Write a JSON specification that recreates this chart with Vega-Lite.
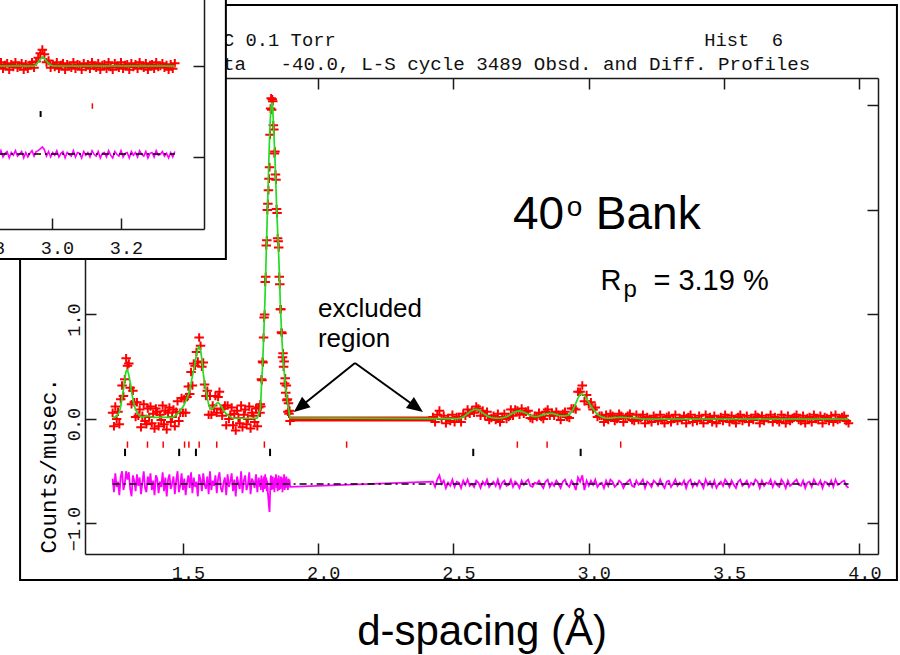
{
"$schema":"https://vega.github.io/schema/vega-lite/v6.json",
"width":793,"height":476,
"padding":{"left":85,"top":78,"right":22,"bottom":101},
"autosize":{"type":"none"},
"background":"white",
"config":{"view":{"stroke":null},
"axis":{"domainColor":"#1a1a1a","domainWidth":1.5,"tickColor":"#1a1a1a","tickWidth":1.5,"tickSize":-11,"grid":false,"labelFont":"Liberation Mono","labelFontSize":18.5,"labelColor":"#111111","labelFlush":false,"labelOverlap":false,"titleColor":"black","titleFontWeight":"normal"}},
"datasets":{
"one":[{"k":1}],
"refR":[{"d":1.295},{"d":1.369},{"d":1.427},{"d":1.506},{"d":1.522},{"d":1.56},{"d":1.625},{"d":1.801},{"d":2.105},{"d":2.736},{"d":2.846},{"d":3.118}],
"refB":[{"d":1.286},{"d":1.486},{"d":1.548},{"d":1.822},{"d":2.573},{"d":2.97}],
"main":[
{"d":1.24,"o":0.06,"c":0.01,"f":-0.57},{"d":1.245,"o":-0.07,"c":0.015,"f":-0.7},{"d":1.25,"o":0.12,"c":0.02,"f":-0.52},{"d":1.255,"o":0.0,"c":0.03,"f":-0.65},{"d":1.26,"o":0.07,"c":0.045,"f":-0.6},{"d":1.265,"o":-0.05,"c":0.065,"f":-0.73},{"d":1.27,"o":0.19,"c":0.12,"f":-0.55},{"d":1.275,"o":0.32,"c":0.2,"f":-0.5},{"d":1.28,"o":0.22,"c":0.28,"f":-0.68},{"d":1.285,"o":0.38,"c":0.38,"f":-0.62},
{"d":1.29,"o":0.58,"c":0.46,"f":-0.5},{"d":1.295,"o":0.51,"c":0.47,"f":-0.58},{"d":1.3,"o":0.53,"c":0.42,"f":-0.51},{"d":1.305,"o":0.3,"c":0.35,"f":-0.67},{"d":1.31,"o":0.14,"c":0.26,"f":-0.74},{"d":1.315,"o":0.27,"c":0.19,"f":-0.54},{"d":1.32,"o":0.16,"c":0.13,"f":-0.59},{"d":1.325,"o":0.02,"c":0.09,"f":-0.69},{"d":1.33,"o":0.16,"c":0.065,"f":-0.53},{"d":1.335,"o":0.03,"c":0.045,"f":-0.64},
{"d":1.34,"o":0.09,"c":0.03,"f":-0.56},{"d":1.345,"o":-0.08,"c":0.022,"f":-0.72},{"d":1.35,"o":0.03,"c":0.02,"f":-0.61},{"d":1.355,"o":0.14,"c":0.02,"f":-0.5},{"d":1.36,"o":-0.02,"c":0.025,"f":-0.66},{"d":1.365,"o":-0.05,"c":0.03,"f":-0.7},{"d":1.37,"o":0.1,"c":0.032,"f":-0.55},{"d":1.375,"o":0.02,"c":0.028,"f":-0.63},{"d":1.38,"o":0.12,"c":0.022,"f":-0.52},{"d":1.385,"o":-0.04,"c":0.018,"f":-0.68},
{"d":1.39,"o":0.05,"c":0.016,"f":-0.59},{"d":1.395,"o":-0.09,"c":0.016,"f":-0.73},{"d":1.4,"o":0.1,"c":0.016,"f":-0.54},{"d":1.405,"o":0.07,"c":0.016,"f":-0.57},{"d":1.41,"o":-0.07,"c":0.016,"f":-0.71},{"d":1.415,"o":0.04,"c":0.016,"f":-0.6},{"d":1.42,"o":-0.01,"c":0.016,"f":-0.65},{"d":1.425,"o":0.13,"c":0.016,"f":-0.51},{"d":1.43,"o":-0.05,"c":0.016,"f":-0.69},{"d":1.435,"o":0.08,"c":0.016,"f":-0.56},
{"d":1.44,"o":-0.1,"c":0.016,"f":-0.74},{"d":1.445,"o":0.06,"c":0.016,"f":-0.58},{"d":1.45,"o":0.11,"c":0.016,"f":-0.53},{"d":1.455,"o":-0.03,"c":0.016,"f":-0.67},{"d":1.46,"o":0.02,"c":0.016,"f":-0.62},{"d":1.465,"o":0.09,"c":0.02,"f":-0.55},{"d":1.47,"o":-0.07,"c":0.03,"f":-0.72},{"d":1.475,"o":0.07,"c":0.04,"f":-0.59},{"d":1.48,"o":0.17,"c":0.05,"f":-0.5},{"d":1.485,"o":-0.02,"c":0.065,"f":-0.7},
{"d":1.49,"o":0.06,"c":0.08,"f":-0.64},{"d":1.495,"o":0.2,"c":0.1,"f":-0.52},{"d":1.5,"o":0.06,"c":0.115,"f":-0.68},{"d":1.505,"o":0.19,"c":0.14,"f":-0.57},{"d":1.51,"o":0.06,"c":0.17,"f":-0.73},{"d":1.515,"o":0.21,"c":0.2,"f":-0.61},{"d":1.52,"o":0.31,"c":0.23,"f":-0.54},{"d":1.525,"o":0.24,"c":0.28,"f":-0.66},{"d":1.53,"o":0.45,"c":0.34,"f":-0.51},{"d":1.535,"o":0.32,"c":0.41,"f":-0.71},
{"d":1.54,"o":0.53,"c":0.47,"f":-0.56},{"d":1.545,"o":0.51,"c":0.54,"f":-0.65},{"d":1.55,"o":0.64,"c":0.62,"f":-0.6},{"d":1.555,"o":0.55,"c":0.67,"f":-0.74},{"d":1.56,"o":0.78,"c":0.69,"f":-0.53},{"d":1.565,"o":0.7,"c":0.66,"f":-0.58},{"d":1.57,"o":0.5,"c":0.57,"f":-0.69},{"d":1.575,"o":0.54,"c":0.44,"f":-0.52},{"d":1.58,"o":0.33,"c":0.34,"f":-0.63},{"d":1.585,"o":0.22,"c":0.27,"f":-0.67},
{"d":1.59,"o":0.27,"c":0.2,"f":-0.55},{"d":1.595,"o":0.04,"c":0.14,"f":-0.72},{"d":1.6,"o":0.22,"c":0.1,"f":-0.5},{"d":1.605,"o":0.04,"c":0.095,"f":-0.68},{"d":1.61,"o":0.13,"c":0.1,"f":-0.59},{"d":1.615,"o":0.1,"c":0.115,"f":-0.64},{"d":1.62,"o":0.22,"c":0.135,"f":-0.54},{"d":1.625,"o":0.06,"c":0.15,"f":-0.71},{"d":1.63,"o":0.21,"c":0.155,"f":-0.57},{"d":1.635,"o":0.26,"c":0.145,"f":-0.51},
{"d":1.64,"o":0.09,"c":0.125,"f":-0.66},{"d":1.645,"o":0.03,"c":0.105,"f":-0.7},{"d":1.65,"o":0.1,"c":0.085,"f":-0.61},{"d":1.655,"o":0.13,"c":0.065,"f":-0.56},{"d":1.66,"o":-0.06,"c":0.05,"f":-0.73},{"d":1.665,"o":0.13,"c":0.04,"f":-0.53},{"d":1.67,"o":0.0,"c":0.03,"f":-0.65},{"d":1.675,"o":0.04,"c":0.02,"f":-0.6},{"d":1.68,"o":0.11,"c":0.012,"f":-0.52},{"d":1.685,"o":-0.06,"c":0.007,"f":-0.69},
{"d":1.69,"o":0.05,"c":0.007,"f":-0.58},{"d":1.695,"o":-0.11,"c":0.007,"f":-0.74},{"d":1.7,"o":0.08,"c":0.007,"f":-0.55},{"d":1.705,"o":0.01,"c":0.007,"f":-0.62},{"d":1.71,"o":-0.04,"c":0.007,"f":-0.67},{"d":1.715,"o":0.13,"c":0.007,"f":-0.5},{"d":1.72,"o":-0.08,"c":0.007,"f":-0.71},{"d":1.725,"o":0.04,"c":0.007,"f":-0.59},{"d":1.73,"o":0.09,"c":0.007,"f":-0.54},{"d":1.735,"o":-0.05,"c":0.007,"f":-0.68},
{"d":1.74,"o":0.0,"c":0.007,"f":-0.63},{"d":1.745,"o":0.12,"c":0.007,"f":-0.51},{"d":1.75,"o":-0.09,"c":0.007,"f":-0.72},{"d":1.755,"o":0.06,"c":0.007,"f":-0.57},{"d":1.76,"o":0.03,"c":0.007,"f":-0.6},{"d":1.765,"o":-0.03,"c":0.007,"f":-0.66},{"d":1.77,"o":0.1,"c":0.007,"f":-0.53},{"d":1.775,"o":-0.07,"c":0.01,"f":-0.7},{"d":1.78,"o":0.11,"c":0.05,"f":-0.56},{"d":1.785,"o":0.06,"c":0.09,"f":-0.65},
{"d":1.786,"o":0.14,"c":0.1,"f":-0.58},{"d":1.788,"o":0.12,"c":0.18,"f":-0.68},{"d":1.79,"o":0.38,"c":0.3,"f":-0.54},{"d":1.792,"o":0.37,"c":0.4,"f":-0.65},{"d":1.794,"o":0.55,"c":0.5,"f":-0.57},{"d":1.796,"o":0.54,"c":0.62,"f":-0.7},{"d":1.798,"o":0.78,"c":0.76,"f":-0.6},{"d":1.8,"o":0.97,"c":0.9,"f":-0.55},{"d":1.802,"o":1.0,"c":1.05,"f":-0.67},{"d":1.804,"o":1.31,"c":1.22,"f":-0.53},
{"d":1.806,"o":1.36,"c":1.4,"f":-0.66},{"d":1.808,"o":1.66,"c":1.6,"f":-0.56},{"d":1.81,"o":1.71,"c":1.78,"f":-0.69},{"d":1.812,"o":2.0,"c":1.97,"f":-0.59},{"d":1.814,"o":2.06,"c":2.15,"f":-0.71},{"d":1.816,"o":2.19,"c":2.34,"f":-0.77},{"d":1.818,"o":2.3,"c":2.52,"f":-0.84},{"d":1.82,"o":2.41,"c":2.68,"f":-0.89},{"d":1.822,"o":2.72,"c":2.82,"f":-0.72},{"d":1.824,"o":2.97,"c":2.92,"f":-0.57},
{"d":1.826,"o":3.07,"c":2.99,"f":-0.54},{"d":1.828,"o":2.96,"c":3.02,"f":-0.68},{"d":1.83,"o":3.06,"c":3.02,"f":-0.58},{"d":1.832,"o":3.04,"c":2.97,"f":-0.55},{"d":1.834,"o":2.81,"c":2.86,"f":-0.67},{"d":1.836,"o":2.77,"c":2.74,"f":-0.59},{"d":1.838,"o":2.54,"c":2.62,"f":-0.7},{"d":1.84,"o":2.56,"c":2.5,"f":-0.56},{"d":1.842,"o":2.34,"c":2.36,"f":-0.64},{"d":1.844,"o":2.29,"c":2.2,"f":-0.53},
{"d":1.846,"o":2.01,"c":2.05,"f":-0.66},{"d":1.848,"o":1.97,"c":1.92,"f":-0.57},{"d":1.85,"o":1.73,"c":1.8,"f":-0.69},{"d":1.852,"o":1.7,"c":1.68,"f":-0.6},{"d":1.854,"o":1.64,"c":1.56,"f":-0.54},{"d":1.856,"o":1.36,"c":1.42,"f":-0.68},{"d":1.858,"o":1.29,"c":1.26,"f":-0.59},{"d":1.86,"o":1.05,"c":1.1,"f":-0.67},{"d":1.862,"o":1.05,"c":0.98,"f":-0.55},{"d":1.864,"o":0.83,"c":0.86,"f":-0.65},
{"d":1.866,"o":0.82,"c":0.76,"f":-0.56},{"d":1.868,"o":0.59,"c":0.67,"f":-0.7},{"d":1.87,"o":0.63,"c":0.59,"f":-0.58},{"d":1.872,"o":0.5,"c":0.52,"f":-0.64},{"d":1.874,"o":0.55,"c":0.46,"f":-0.53},{"d":1.876,"o":0.34,"c":0.4,"f":-0.68},{"d":1.878,"o":0.39,"c":0.34,"f":-0.57},{"d":1.88,"o":0.25,"c":0.29,"f":-0.66},{"d":1.882,"o":0.32,"c":0.25,"f":-0.55},{"d":1.884,"o":0.18,"c":0.21,"f":-0.65},
{"d":1.886,"o":0.19,"c":0.17,"f":-0.6},{"d":1.888,"o":0.07,"c":0.13,"f":-0.68},{"d":1.89,"o":0.15,"c":0.1,"f":-0.57},{"d":1.892,"o":0.05,"c":0.07,"f":-0.64},{"d":1.894,"o":0.08,"c":0.04,"f":-0.58},{"d":1.896,"o":-0.02,"c":0.01,"f":-0.65},
{"d":2.424,"o":0.02,"c":0.003,"f":-0.6},{"d":2.432,"o":-0.03,"c":0.003,"f":-0.65},{"d":2.44,"o":0.04,"c":0.003,"f":-0.58},{"d":2.448,"o":0.08,"c":0.003,"f":-0.54},{"d":2.456,"o":0.0,"c":0.003,"f":-0.62},{"d":2.464,"o":0.03,"c":0.003,"f":-0.59},{"d":2.472,"o":-0.04,"c":0.003,"f":-0.66},{"d":2.48,"o":0.01,"c":0.003,"f":-0.61},{"d":2.488,"o":-0.02,"c":0.003,"f":-0.64},{"d":2.496,"o":0.04,"c":0.003,"f":-0.58},
{"d":2.504,"o":-0.03,"c":0.003,"f":-0.65},{"d":2.512,"o":0.02,"c":0.004,"f":-0.6},{"d":2.52,"o":0.02,"c":0.005,"f":-0.61},{"d":2.528,"o":-0.03,"c":0.01,"f":-0.66},{"d":2.536,"o":0.05,"c":0.02,"f":-0.59},{"d":2.544,"o":0.03,"c":0.035,"f":-0.63},{"d":2.552,"o":0.09,"c":0.052,"f":-0.58},{"d":2.56,"o":0.05,"c":0.068,"f":-0.64},{"d":2.568,"o":0.08,"c":0.08,"f":-0.62},{"d":2.576,"o":0.06,"c":0.09,"f":-0.65},
{"d":2.584,"o":0.12,"c":0.093,"f":-0.59},{"d":2.592,"o":0.1,"c":0.088,"f":-0.61},{"d":2.6,"o":0.03,"c":0.074,"f":-0.66},{"d":2.608,"o":0.08,"c":0.058,"f":-0.6},{"d":2.616,"o":0.03,"c":0.042,"f":-0.63},{"d":2.624,"o":0.07,"c":0.03,"f":-0.58},{"d":2.632,"o":-0.01,"c":0.02,"f":-0.65},{"d":2.64,"o":0.01,"c":0.014,"f":-0.62},{"d":2.648,"o":0.03,"c":0.01,"f":-0.6},{"d":2.656,"o":-0.01,"c":0.008,"f":-0.64},
{"d":2.664,"o":0.05,"c":0.007,"f":-0.58},{"d":2.672,"o":-0.03,"c":0.008,"f":-0.66},{"d":2.68,"o":0.02,"c":0.01,"f":-0.61},{"d":2.688,"o":0.05,"c":0.015,"f":-0.59},{"d":2.696,"o":0.0,"c":0.022,"f":-0.64},{"d":2.704,"o":0.02,"c":0.032,"f":-0.63},{"d":2.712,"o":0.09,"c":0.045,"f":-0.58},{"d":2.72,"o":0.03,"c":0.058,"f":-0.65},{"d":2.728,"o":0.09,"c":0.068,"f":-0.6},{"d":2.736,"o":0.08,"c":0.075,"f":-0.62},
{"d":2.744,"o":0.04,"c":0.077,"f":-0.66},{"d":2.752,"o":0.1,"c":0.073,"f":-0.59},{"d":2.76,"o":0.05,"c":0.064,"f":-0.63},{"d":2.768,"o":0.07,"c":0.054,"f":-0.6},{"d":2.776,"o":0.08,"c":0.044,"f":-0.58},{"d":2.784,"o":0.01,"c":0.034,"f":-0.64},{"d":2.792,"o":0.0,"c":0.027,"f":-0.65},{"d":2.8,"o":0.03,"c":0.023,"f":-0.61},{"d":2.808,"o":0.02,"c":0.024,"f":-0.62},{"d":2.816,"o":0.06,"c":0.028,"f":-0.59},
{"d":2.824,"o":0.02,"c":0.034,"f":-0.63},{"d":2.832,"o":0.0,"c":0.04,"f":-0.66},{"d":2.84,"o":0.07,"c":0.047,"f":-0.6},{"d":2.848,"o":0.09,"c":0.052,"f":-0.58},{"d":2.856,"o":0.03,"c":0.055,"f":-0.65},{"d":2.864,"o":0.06,"c":0.054,"f":-0.61},{"d":2.872,"o":0.03,"c":0.049,"f":-0.64},{"d":2.88,"o":0.07,"c":0.042,"f":-0.59},{"d":2.888,"o":0.04,"c":0.036,"f":-0.62},{"d":2.896,"o":-0.01,"c":0.032,"f":-0.66},
{"d":2.904,"o":0.05,"c":0.03,"f":-0.6},{"d":2.912,"o":0.07,"c":0.03,"f":-0.58},{"d":2.92,"o":0.02,"c":0.033,"f":-0.63},{"d":2.928,"o":0.01,"c":0.042,"f":-0.65},{"d":2.936,"o":0.1,"c":0.065,"f":-0.59},{"d":2.944,"o":0.1,"c":0.1,"f":-0.62},{"d":2.952,"o":0.09,"c":0.15,"f":-0.68},{"d":2.96,"o":0.26,"c":0.2,"f":-0.56},{"d":2.968,"o":0.26,"c":0.235,"f":-0.6},{"d":2.976,"o":0.32,"c":0.24,"f":-0.54},
{"d":2.984,"o":0.17,"c":0.225,"f":-0.68},{"d":2.992,"o":0.23,"c":0.195,"f":-0.59},{"d":3.0,"o":0.14,"c":0.16,"f":-0.64},{"d":3.008,"o":0.16,"c":0.125,"f":-0.59},{"d":3.016,"o":0.09,"c":0.095,"f":-0.63},{"d":3.024,"o":0.11,"c":0.068,"f":-0.58},{"d":3.032,"o":0.02,"c":0.045,"f":-0.65},{"d":3.04,"o":0.03,"c":0.03,"f":-0.62},{"d":3.048,"o":0.03,"c":0.02,"f":-0.61},{"d":3.056,"o":-0.03,"c":0.012,"f":-0.66},
{"d":3.064,"o":0.04,"c":0.008,"f":-0.59},{"d":3.072,"o":-0.01,"c":0.007,"f":-0.64},{"d":3.08,"o":0.05,"c":0.008,"f":-0.58},{"d":3.088,"o":0.03,"c":0.01,"f":-0.6},{"d":3.096,"o":-0.02,"c":0.012,"f":-0.65},{"d":3.104,"o":0.0,"c":0.014,"f":-0.63},{"d":3.112,"o":0.05,"c":0.015,"f":-0.59},{"d":3.12,"o":0.03,"c":0.015,"f":-0.61},{"d":3.128,"o":-0.03,"c":0.014,"f":-0.66},{"d":3.136,"o":0.01,"c":0.013,"f":-0.62},
{"d":3.144,"o":0.03,"c":0.012,"f":-0.6},{"d":3.152,"o":0.05,"c":0.012,"f":-0.58},{"d":3.16,"o":-0.01,"c":0.012,"f":-0.64},{"d":3.168,"o":-0.02,"c":0.011,"f":-0.65},{"d":3.176,"o":0.04,"c":0.008,"f":-0.59},{"d":3.184,"o":-0.01,"c":0.005,"f":-0.63},{"d":3.192,"o":0.01,"c":0.002,"f":-0.61},{"d":3.2,"o":0.04,"c":0,"f":-0.58},{"d":3.208,"o":-0.04,"c":0,"f":-0.66},{"d":3.216,"o":0.02,"c":0,"f":-0.6},
{"d":3.224,"o":0.0,"c":0,"f":-0.62},{"d":3.232,"o":-0.03,"c":0,"f":-0.65},{"d":3.24,"o":0.03,"c":0,"f":-0.59},{"d":3.248,"o":0.01,"c":0,"f":-0.61},{"d":3.256,"o":-0.02,"c":0,"f":-0.64},{"d":3.264,"o":0.04,"c":0,"f":-0.58},{"d":3.272,"o":-0.01,"c":0,"f":-0.63},{"d":3.28,"o":-0.04,"c":0,"f":-0.66},{"d":3.288,"o":0.02,"c":0,"f":-0.6},{"d":3.296,"o":0.03,"c":0,"f":-0.59},
{"d":3.304,"o":-0.03,"c":0,"f":-0.65},{"d":3.312,"o":0.0,"c":0,"f":-0.62},{"d":3.32,"o":0.04,"c":0,"f":-0.58},{"d":3.328,"o":-0.02,"c":0,"f":-0.64},{"d":3.336,"o":0.01,"c":0,"f":-0.61},{"d":3.344,"o":-0.01,"c":0,"f":-0.63},{"d":3.352,"o":0.03,"c":0,"f":-0.59},{"d":3.36,"o":-0.04,"c":0,"f":-0.66},{"d":3.368,"o":0.02,"c":0,"f":-0.6},{"d":3.376,"o":0.04,"c":0,"f":-0.58},
{"d":3.384,"o":-0.03,"c":0,"f":-0.65},{"d":3.392,"o":0.01,"c":0,"f":-0.61},{"d":3.4,"o":-0.02,"c":0,"f":-0.64},{"d":3.408,"o":0.03,"c":0,"f":-0.59},{"d":3.416,"o":0.0,"c":0,"f":-0.62},{"d":3.424,"o":-0.04,"c":0,"f":-0.66},{"d":3.432,"o":0.04,"c":0,"f":-0.58},{"d":3.44,"o":-0.01,"c":0,"f":-0.63},{"d":3.448,"o":0.02,"c":0,"f":-0.6},{"d":3.456,"o":-0.03,"c":0,"f":-0.65},
{"d":3.464,"o":0.03,"c":0,"f":-0.59},{"d":3.472,"o":-0.04,"c":0,"f":-0.66},{"d":3.48,"o":0.0,"c":0,"f":-0.62},{"d":3.488,"o":0.02,"c":0,"f":-0.6},{"d":3.496,"o":-0.02,"c":0,"f":-0.64},{"d":3.504,"o":0.04,"c":0,"f":-0.58},{"d":3.512,"o":0.01,"c":0,"f":-0.61},{"d":3.52,"o":-0.03,"c":0,"f":-0.65},{"d":3.528,"o":0.03,"c":0,"f":-0.59},{"d":3.536,"o":-0.01,"c":0,"f":-0.63},
{"d":3.544,"o":-0.04,"c":0,"f":-0.66},{"d":3.552,"o":0.02,"c":0,"f":-0.6},{"d":3.56,"o":0.04,"c":0,"f":-0.58},{"d":3.568,"o":-0.02,"c":0,"f":-0.64},{"d":3.576,"o":0.0,"c":0,"f":-0.62},{"d":3.584,"o":0.03,"c":0,"f":-0.59},{"d":3.592,"o":-0.03,"c":0,"f":-0.65},{"d":3.6,"o":0.01,"c":0,"f":-0.61},{"d":3.608,"o":-0.01,"c":0,"f":-0.63},{"d":3.616,"o":0.04,"c":0,"f":-0.58},
{"d":3.624,"o":0.02,"c":0,"f":-0.6},{"d":3.632,"o":-0.04,"c":0,"f":-0.66},{"d":3.64,"o":0.03,"c":0,"f":-0.59},{"d":3.648,"o":-0.02,"c":0,"f":-0.64},{"d":3.656,"o":0.01,"c":0,"f":-0.61},{"d":3.664,"o":0.0,"c":0,"f":-0.62},{"d":3.672,"o":0.04,"c":0,"f":-0.58},{"d":3.68,"o":-0.03,"c":0,"f":-0.65},{"d":3.688,"o":0.02,"c":0,"f":-0.6},{"d":3.696,"o":-0.01,"c":0,"f":-0.63},
{"d":3.704,"o":-0.03,"c":0,"f":-0.65},{"d":3.712,"o":0.04,"c":0,"f":-0.58},{"d":3.72,"o":0.01,"c":0,"f":-0.61},{"d":3.728,"o":-0.04,"c":0,"f":-0.66},{"d":3.736,"o":0.03,"c":0,"f":-0.59},{"d":3.744,"o":-0.02,"c":0,"f":-0.64},{"d":3.752,"o":0.0,"c":0,"f":-0.62},{"d":3.76,"o":0.02,"c":0,"f":-0.6},{"d":3.768,"o":0.04,"c":0,"f":-0.58},{"d":3.776,"o":-0.01,"c":0,"f":-0.63},
{"d":3.784,"o":-0.02,"c":0,"f":-0.64},{"d":3.792,"o":0.03,"c":0,"f":-0.59},{"d":3.8,"o":-0.04,"c":0,"f":-0.66},{"d":3.808,"o":0.01,"c":0,"f":-0.61},{"d":3.816,"o":0.02,"c":0,"f":-0.6},{"d":3.824,"o":-0.03,"c":0,"f":-0.65},{"d":3.832,"o":0.04,"c":0,"f":-0.58},{"d":3.84,"o":0.0,"c":0,"f":-0.62},{"d":3.848,"o":-0.01,"c":0,"f":-0.63},{"d":3.856,"o":0.03,"c":0,"f":-0.59},
{"d":3.864,"o":-0.04,"c":0,"f":-0.66},{"d":3.872,"o":0.02,"c":0,"f":-0.6},{"d":3.88,"o":0.01,"c":0,"f":-0.61},{"d":3.888,"o":-0.02,"c":0,"f":-0.64},{"d":3.896,"o":0.03,"c":0,"f":-0.59},{"d":3.904,"o":-0.03,"c":0,"f":-0.65},{"d":3.912,"o":0.04,"c":0,"f":-0.58},{"d":3.92,"o":-0.01,"c":0,"f":-0.63},{"d":3.928,"o":0.0,"c":0,"f":-0.62},{"d":3.936,"o":0.02,"c":0,"f":-0.6},
{"d":3.944,"o":0.03,"c":0,"f":-0.59},{"d":3.952,"o":-0.02,"c":0,"f":-0.64},{"d":3.96,"o":-0.04,"c":0,"f":-0.66}
],
"inset":[
{"d":2.84,"o":0.03,"c":0,"f":-0.94},{"d":2.846,"o":-0.02,"c":0,"f":-0.99},{"d":2.852,"o":0.04,"c":0,"f":-0.93},{"d":2.858,"o":-0.03,"c":0,"f":-1.0},{"d":2.864,"o":0.01,"c":0,"f":-0.96},{"d":2.87,"o":0.03,"c":0,"f":-0.94},{"d":2.876,"o":-0.04,"c":0,"f":-1.01},{"d":2.882,"o":0.02,"c":0,"f":-0.95},{"d":2.888,"o":-0.01,"c":0,"f":-0.98},{"d":2.894,"o":0.04,"c":0,"f":-0.93},
{"d":2.9,"o":-0.02,"c":0,"f":-0.99},{"d":2.906,"o":0.0,"c":0,"f":-0.97},{"d":2.912,"o":0.03,"c":0,"f":-0.94},{"d":2.918,"o":-0.04,"c":0,"f":-1.01},{"d":2.924,"o":0.02,"c":0,"f":-0.95},{"d":2.93,"o":-0.03,"c":0,"f":-1.0},{"d":2.936,"o":0.01,"c":0,"f":-0.96},{"d":2.942,"o":0.04,"c":0,"f":-0.93},{"d":2.948,"o":-0.02,"c":0,"f":-0.99},{"d":2.954,"o":0.05,"c":0.015,"f":-0.94},
{"d":2.96,"o":0.09,"c":0.045,"f":-0.93},{"d":2.966,"o":0.14,"c":0.075,"f":-0.91},{"d":2.972,"o":0.18,"c":0.1,"f":-0.89},{"d":2.978,"o":0.13,"c":0.08,"f":-0.92},{"d":2.984,"o":0.04,"c":0.055,"f":-0.99},{"d":2.99,"o":0.06,"c":0.03,"f":-0.94},{"d":2.996,"o":-0.02,"c":0.01,"f":-1.0},{"d":3.002,"o":0.02,"c":0,"f":-0.95},{"d":3.008,"o":-0.01,"c":0,"f":-0.98},{"d":3.014,"o":0.04,"c":0,"f":-0.93},
{"d":3.02,"o":-0.03,"c":0,"f":-1.0},{"d":3.026,"o":0.01,"c":0,"f":-0.96},{"d":3.032,"o":0.03,"c":0,"f":-0.94},{"d":3.038,"o":-0.04,"c":0,"f":-1.01},{"d":3.044,"o":0.02,"c":0,"f":-0.95},{"d":3.05,"o":0.0,"c":0,"f":-0.97},{"d":3.056,"o":-0.02,"c":0,"f":-0.99},{"d":3.062,"o":0.04,"c":0,"f":-0.93},{"d":3.068,"o":-0.03,"c":0,"f":-1.0},{"d":3.074,"o":0.02,"c":0,"f":-0.95},
{"d":3.08,"o":0.01,"c":0,"f":-0.96},{"d":3.086,"o":-0.04,"c":0,"f":-1.01},{"d":3.092,"o":0.03,"c":0,"f":-0.94},{"d":3.098,"o":-0.01,"c":0,"f":-0.98},{"d":3.104,"o":0.02,"c":0,"f":-0.95},{"d":3.11,"o":-0.03,"c":0,"f":-1.0},{"d":3.116,"o":0.04,"c":0,"f":-0.93},{"d":3.122,"o":0.0,"c":0,"f":-0.97},{"d":3.128,"o":-0.02,"c":0,"f":-0.99},{"d":3.134,"o":0.03,"c":0,"f":-0.94},
{"d":3.14,"o":-0.04,"c":0,"f":-1.01},{"d":3.146,"o":0.01,"c":0,"f":-0.96},{"d":3.152,"o":0.02,"c":0,"f":-0.95},{"d":3.158,"o":-0.03,"c":0,"f":-1.0},{"d":3.164,"o":0.04,"c":0,"f":-0.93},{"d":3.17,"o":-0.01,"c":0,"f":-0.98},{"d":3.176,"o":-0.04,"c":0,"f":-1.01},{"d":3.182,"o":0.03,"c":0,"f":-0.94},{"d":3.188,"o":0.0,"c":0,"f":-0.97},{"d":3.194,"o":-0.02,"c":0,"f":-0.99},
{"d":3.2,"o":0.04,"c":0,"f":-0.93},{"d":3.206,"o":-0.03,"c":0,"f":-1.0},{"d":3.212,"o":0.01,"c":0,"f":-0.96},{"d":3.218,"o":0.02,"c":0,"f":-0.95},{"d":3.224,"o":-0.04,"c":0,"f":-1.01},{"d":3.23,"o":0.03,"c":0,"f":-0.94},{"d":3.236,"o":-0.01,"c":0,"f":-0.98},{"d":3.242,"o":0.02,"c":0,"f":-0.95},{"d":3.248,"o":-0.03,"c":0,"f":-1.0},{"d":3.254,"o":0.04,"c":0,"f":-0.93},
{"d":3.26,"o":0.0,"c":0,"f":-0.97},{"d":3.266,"o":-0.02,"c":0,"f":-0.99},{"d":3.272,"o":0.03,"c":0,"f":-0.94},{"d":3.278,"o":-0.04,"c":0,"f":-1.01},{"d":3.284,"o":0.01,"c":0,"f":-0.96},{"d":3.29,"o":0.02,"c":0,"f":-0.95},{"d":3.296,"o":-0.03,"c":0,"f":-1.0},{"d":3.302,"o":0.04,"c":0,"f":-0.93},{"d":3.308,"o":-0.01,"c":0,"f":-0.98},{"d":3.314,"o":0.0,"c":0,"f":-0.97},
{"d":3.32,"o":0.03,"c":0,"f":-0.94},{"d":3.326,"o":-0.02,"c":0,"f":-0.99},{"d":3.332,"o":0.01,"c":0,"f":-0.96},{"d":3.338,"o":-0.04,"c":0,"f":-1.01},{"d":3.344,"o":0.02,"c":0,"f":-0.95},{"d":3.35,"o":-0.03,"c":0,"f":-1.0},{"d":3.356,"o":0.03,"c":0,"f":-0.94}
]},
"resolve":{"scale":{"x":"independent","y":"independent"},"axis":{"x":"independent","y":"independent"}},
"layer":[
{"layer":[
{"data":{"name":"one"},"mark":{"type":"rect","filled":false,"stroke":"black","strokeWidth":2},
 "encoding":{"x":{"datum":0.898,"type":"quantitative"},"x2":{"datum":4.139},"y":{"datum":3.962,"type":"quantitative"},"y2":{"datum":-1.541}}},
{"data":{"name":"one"},"mark":{"type":"text","text":"C 0.1 Torr","align":"left","baseline":"alphabetic","font":"Liberation Mono","fontSize":18.8,"color":"#111111"},
 "encoding":{"x":{"datum":1.648,"type":"quantitative"},"y":{"datum":3.569,"type":"quantitative"}}},
{"data":{"name":"one"},"mark":{"type":"text","text":"ta\u00a0\u00a0\u00a0-40.0,\u00a0L-S\u00a0cycle\u00a03489\u00a0Obsd.\u00a0and\u00a0Diff.\u00a0Profiles","align":"left","baseline":"alphabetic","font":"Liberation Mono","fontSize":19.2,"color":"#111111"},
 "encoding":{"x":{"datum":1.648,"type":"quantitative"},"y":{"datum":3.34,"type":"quantitative"}}},
{"data":{"name":"one"},"mark":{"type":"text","text":"Hist\u00a0\u00a06","align":"right","baseline":"alphabetic","font":"Liberation Mono","fontSize":18.8,"color":"#111111"},
 "encoding":{"x":{"datum":3.718,"type":"quantitative"},"y":{"datum":3.569,"type":"quantitative"}}},
{"data":{"name":"one"},"mark":{"type":"rule","color":"#ff0000","strokeWidth":5},
 "encoding":{"x":{"datum":1.896,"type":"quantitative"},"x2":{"datum":2.424},"y":{"datum":0,"type":"quantitative"}}},
{"data":{"name":"main"},"mark":{"type":"point","shape":"M-1,0H1M0,-0.9V0.9","filled":false,"color":"#ff0000","strokeWidth":2,"size":90,"opacity":1},
 "encoding":{
  "x":{"field":"d","type":"quantitative","scale":{"domain":[1.138,4.069],"nice":false,"zero":false},
   "axis":{"orient":"bottom","values":[1.5,2,2.5,3,3.5,4],"format":".1f","labelPadding":20,"labelOffset":5,"title":"d-spacing (Å)","titleFont":"Liberation Sans","titleFontSize":42,"titleX":396.5,"titleY":90,"titleAlign":"center","titleBaseline":"alphabetic"}},
  "y":{"field":"o","type":"quantitative","scale":{"domain":[-1.292,3.263],"nice":false,"zero":false},
   "axis":{"orient":"left","values":[-1,0,1,2,3],"format":".1f","labelAngle":270,"labelAlign":"center","labelBaseline":"alphabetic","labelPadding":17,"labelOffset":5,"title":"Counts/musec.","titleFont":"Liberation Mono","titleFontSize":22.5,"titleAngle":270,"titleAlign":"left","titleBaseline":"alphabetic","titleX":-30,"titleY":475}}}},
{"data":{"name":"main"},"mark":{"type":"line","color":"#22dd22","strokeWidth":1.7},
 "encoding":{"x":{"field":"d","type":"quantitative"},"y":{"field":"c","type":"quantitative"}}},
{"data":{"name":"main"},"mark":{"type":"line","color":"#ff00ff","strokeWidth":1.8},
 "encoding":{"x":{"field":"d","type":"quantitative"},"y":{"field":"f","type":"quantitative"}}},
{"data":{"name":"one"},"mark":{"type":"rule","color":"black","strokeWidth":1.4,"strokeDash":[7,4,2,4]},
 "encoding":{"x":{"datum":1.24,"type":"quantitative"},"x2":{"datum":3.96},"y":{"datum":-0.622,"type":"quantitative"}}},
{"data":{"name":"refR"},"mark":{"type":"rule","color":"#ff0000","strokeWidth":1.5},
 "encoding":{"x":{"field":"d","type":"quantitative"},"y":{"datum":-0.215,"type":"quantitative"},"y2":{"datum":-0.275}}},
{"data":{"name":"refB"},"mark":{"type":"rule","color":"black","strokeWidth":2},
 "encoding":{"x":{"field":"d","type":"quantitative"},"y":{"datum":-0.285,"type":"quantitative"},"y2":{"datum":-0.355}}},
{"data":{"name":"one"},"mark":{"type":"text","text":"40","align":"left","baseline":"alphabetic","font":"Liberation Sans","fontSize":46,"color":"black"},
 "encoding":{"x":{"datum":2.72,"type":"quantitative"},"y":{"datum":1.818,"type":"quantitative"}}},
{"data":{"name":"one"},"mark":{"type":"text","text":"o","align":"left","baseline":"alphabetic","font":"Liberation Sans","fontSize":28,"color":"black"},
 "encoding":{"x":{"datum":2.919,"type":"quantitative"},"y":{"datum":1.942,"type":"quantitative"}}},
{"data":{"name":"one"},"mark":{"type":"text","text":"Bank","align":"left","baseline":"alphabetic","font":"Liberation Sans","fontSize":46,"color":"black"},
 "encoding":{"x":{"datum":3.026,"type":"quantitative"},"y":{"datum":1.818,"type":"quantitative"}}},
{"data":{"name":"one"},"mark":{"type":"text","text":"R","align":"left","baseline":"alphabetic","font":"Liberation Sans","fontSize":29,"color":"black"},
 "encoding":{"x":{"datum":3.043,"type":"quantitative"},"y":{"datum":1.234,"type":"quantitative"}}},
{"data":{"name":"one"},"mark":{"type":"text","text":"p","align":"left","baseline":"alphabetic","font":"Liberation Sans","fontSize":24,"color":"black"},
 "encoding":{"x":{"datum":3.128,"type":"quantitative"},"y":{"datum":1.167,"type":"quantitative"}}},
{"data":{"name":"one"},"mark":{"type":"text","text":"= 3.19 %","align":"left","baseline":"alphabetic","font":"Liberation Sans","fontSize":29,"color":"black"},
 "encoding":{"x":{"datum":3.239,"type":"quantitative"},"y":{"datum":1.234,"type":"quantitative"}}},
{"data":{"name":"one"},"mark":{"type":"text","text":"excluded","align":"left","baseline":"alphabetic","font":"Liberation Sans","fontSize":26,"color":"black"},
 "encoding":{"x":{"datum":1.999,"type":"quantitative"},"y":{"datum":0.976,"type":"quantitative"}}},
{"data":{"name":"one"},"mark":{"type":"text","text":"region","align":"left","baseline":"alphabetic","font":"Liberation Sans","fontSize":26,"color":"black"},
 "encoding":{"x":{"datum":1.999,"type":"quantitative"},"y":{"datum":0.689,"type":"quantitative"}}},
{"data":{"name":"one"},"mark":{"type":"rule","color":"black","strokeWidth":2},
 "encoding":{"x":{"datum":2.136,"type":"quantitative"},"y":{"datum":0.536,"type":"quantitative"},"x2":{"datum":1.933},"y2":{"datum":0.115}}},
{"data":{"name":"one"},"mark":{"type":"rule","color":"black","strokeWidth":2},
 "encoding":{"x":{"datum":2.136,"type":"quantitative"},"y":{"datum":0.536,"type":"quantitative"},"x2":{"datum":2.363},"y2":{"datum":0.112}}},
{"data":{"name":"one"},"mark":{"type":"point","shape":"M0,-1L0.85,1L-0.85,1Z","filled":true,"color":"black","size":256,"opacity":1,"angle":231.2},
 "encoding":{"x":{"datum":1.933,"type":"quantitative"},"y":{"datum":0.115,"type":"quantitative"}}},
{"data":{"name":"one"},"mark":{"type":"point","shape":"M0,-1L0.85,1L-0.85,1Z","filled":true,"color":"black","size":256,"opacity":1,"angle":125.8},
 "encoding":{"x":{"datum":2.363,"type":"quantitative"},"y":{"datum":0.112,"type":"quantitative"}}}
]},
{"data":{"name":"one"},"mark":{"type":"point","opacity":0},
 "encoding":{
  "x":{"datum":2,"type":"quantitative","scale":{"domain":[1.138,4.069],"nice":false,"zero":false},"axis":{"orient":"top","values":[1.5,2,2.5,3,3.5,4],"labels":false,"title":null}},
  "y":{"datum":0,"type":"quantitative","scale":{"domain":[-1.292,3.263],"nice":false,"zero":false},"axis":{"orient":"right","values":[-1,0,1,2,3],"labels":false,"title":null}}}},
{"layer":[
{"data":{"name":"one"},"mark":{"type":"rect","fill":"white","stroke":"black","strokeWidth":2},
 "encoding":{
  "x":{"datum":2.75,"type":"quantitative","scale":{"domain":[2.8,3.4406],"range":[-102,119],"nice":false,"zero":false},
   "axis":{"orient":"bottom","offset":-325,"values":[2.8,3.0,3.2],"format":".1f","labelPadding":20,"labelOffset":5,"title":null,"zindex":1}},
  "x2":{"datum":3.504},
  "y":{"datum":1.2,"type":"quantitative","scale":{"domain":[-1.791,1.0],"range":[151,-103],"nice":false,"zero":false},
   "axis":{"orient":"right","offset":-674,"values":[0,-1],"labels":false,"title":null,"zindex":1}},
  "y2":{"datum":-2.121}}},
{"data":{"name":"inset"},"mark":{"type":"point","shape":"M-1,0H1M0,-0.9V0.9","filled":false,"color":"#ff0000","strokeWidth":2,"size":90,"opacity":1},
 "encoding":{"x":{"field":"d","type":"quantitative"},"y":{"field":"o","type":"quantitative"}}},
{"data":{"name":"inset"},"mark":{"type":"line","color":"#22dd22","strokeWidth":1.7},
 "encoding":{"x":{"field":"d","type":"quantitative"},"y":{"field":"c","type":"quantitative"}}},
{"data":{"name":"inset"},"mark":{"type":"line","color":"#ff00ff","strokeWidth":1.6},
 "encoding":{"x":{"field":"d","type":"quantitative"},"y":{"field":"f","type":"quantitative"}}},
{"data":{"name":"one"},"mark":{"type":"rule","color":"black","strokeWidth":1.4,"strokeDash":[7,4,2,4]},
 "encoding":{"x":{"datum":2.8,"type":"quantitative"},"x2":{"datum":3.356},"y":{"datum":-0.967,"type":"quantitative"}}},
{"data":{"name":"one"},"mark":{"type":"rule","color":"black","strokeWidth":2},
 "encoding":{"x":{"datum":2.967,"type":"quantitative"},"y":{"datum":-0.495,"type":"quantitative"},"y2":{"datum":-0.56}}},
{"data":{"name":"one"},"mark":{"type":"rule","color":"#ff0000","strokeWidth":1.5},
 "encoding":{"x":{"datum":3.117,"type":"quantitative"},"y":{"datum":-0.41,"type":"quantitative"},"y2":{"datum":-0.47}}}
]}
]
}
